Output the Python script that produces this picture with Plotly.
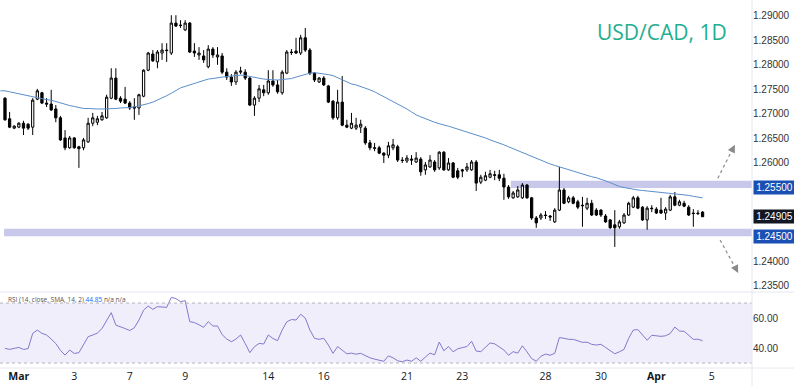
import plotly.graph_objects as go

# ---------------- data ----------------
opens = [
    1.2732, 1.2690, 1.2671, 1.2673, 1.2681, 1.2679, 1.2673, 1.2730, 1.2743, 1.2722,
    1.2720, 1.2710, 1.2692, 1.2651, 1.2631, 1.2651, 1.2633, 1.2631, 1.2643, 1.2681,
    1.2683, 1.2688, 1.2692, 1.2732, 1.2773, 1.2732, 1.2730, 1.2722, 1.2714, 1.2712,
    1.2736, 1.2789, 1.2822, 1.2806, 1.2824, 1.2830, 1.2824, 1.2885, 1.2881, 1.2871,
    1.2885, 1.2828, 1.2820, 1.2818, 1.2796, 1.2832, 1.2816, 1.2818, 1.2785, 1.2775,
    1.2765, 1.2785, 1.2785, 1.2773, 1.2718, 1.2732, 1.2749, 1.2743, 1.2767, 1.2759,
    1.2743, 1.2783, 1.2826, 1.2828, 1.2824, 1.2855, 1.2830, 1.2783, 1.2765, 1.2773,
    1.2757, 1.2726, 1.2692, 1.2724, 1.2677, 1.2671, 1.2671, 1.2673, 1.2671, 1.2641,
    1.2631, 1.2631, 1.2620, 1.2616, 1.2631, 1.2633, 1.2606, 1.2604, 1.2608, 1.2602,
    1.2608, 1.2586, 1.2592, 1.2602, 1.2590, 1.2622, 1.2586, 1.2600, 1.2584, 1.2586,
    1.2586, 1.2586, 1.2602, 1.2561, 1.2565, 1.2571, 1.2576, 1.2576, 1.2569, 1.2551,
    1.2529, 1.2531, 1.2529, 1.2555, 1.2529, 1.2488, 1.2488, 1.2494, 1.2492, 1.2480,
    1.2504, 1.2545, 1.2521, 1.2529, 1.2521, 1.2514, 1.2508, 1.2518, 1.2504, 1.2504,
    1.2492, 1.2484, 1.2474, 1.2470, 1.2478, 1.2494, 1.2510, 1.2529, 1.2510, 1.2484,
    1.2508, 1.2506, 1.2504, 1.2498, 1.2504, 1.2531, 1.2514, 1.2518, 1.2510, 1.2498,
    1.2498, 1.2500,
]
highs = [
    1.2734, 1.2704, 1.2677, 1.2683, 1.2686, 1.2681, 1.2732, 1.2751, 1.2745, 1.2732,
    1.2749, 1.2718, 1.2696, 1.2667, 1.2655, 1.2653, 1.2635, 1.2651, 1.2692, 1.2702,
    1.2696, 1.2704, 1.2739, 1.2793, 1.2793, 1.2736, 1.2755, 1.2726, 1.2732, 1.2741,
    1.2791, 1.2826, 1.2830, 1.2830, 1.2844, 1.2844, 1.2901, 1.2901, 1.2891, 1.2891,
    1.2887, 1.2844, 1.2836, 1.2830, 1.2840, 1.2836, 1.2836, 1.2824, 1.2793, 1.2781,
    1.2789, 1.2796, 1.2791, 1.2775, 1.2736, 1.2759, 1.2759, 1.2789, 1.2789, 1.2769,
    1.2789, 1.2830, 1.2832, 1.2855, 1.2861, 1.2875, 1.2834, 1.2785, 1.2775, 1.2777,
    1.2759, 1.2728, 1.2749, 1.2777, 1.2688, 1.2702, 1.2692, 1.2688, 1.2675, 1.2647,
    1.2641, 1.2635, 1.2622, 1.2643, 1.2649, 1.2637, 1.2612, 1.2616, 1.2616, 1.2622,
    1.2612, 1.2602, 1.2616, 1.2606, 1.2624, 1.2624, 1.2610, 1.2602, 1.2590, 1.2588,
    1.2600, 1.2606, 1.2606, 1.2576, 1.2582, 1.2586, 1.2584, 1.2586, 1.2578, 1.2555,
    1.2543, 1.2553, 1.2559, 1.2557, 1.2531, 1.2492, 1.2498, 1.2502, 1.2494, 1.2508,
    1.2592, 1.2549, 1.2533, 1.2533, 1.2525, 1.2531, 1.2529, 1.2525, 1.2508, 1.2506,
    1.2496, 1.2486, 1.2504, 1.2484, 1.2498, 1.2521, 1.2533, 1.2533, 1.2512, 1.2512,
    1.2514, 1.2510, 1.2529, 1.2510, 1.2535, 1.2541, 1.2525, 1.2523, 1.2514, 1.2506,
    1.2504, 1.2502,
]
lows = [
    1.2686, 1.2671, 1.2669, 1.2671, 1.2657, 1.2667, 1.2657, 1.2728, 1.2720, 1.2714,
    1.2706, 1.2683, 1.2645, 1.2626, 1.2629, 1.2629, 1.2590, 1.2626, 1.2641, 1.2675,
    1.2677, 1.2686, 1.2690, 1.2730, 1.2728, 1.2722, 1.2720, 1.2708, 1.2688, 1.2698,
    1.2734, 1.2787, 1.2806, 1.2793, 1.2810, 1.2806, 1.2820, 1.2877, 1.2875, 1.2869,
    1.2824, 1.2816, 1.2810, 1.2804, 1.2793, 1.2814, 1.2800, 1.2781, 1.2769, 1.2757,
    1.2759, 1.2781, 1.2769, 1.2716, 1.2696, 1.2724, 1.2736, 1.2739, 1.2755, 1.2741,
    1.2739, 1.2781, 1.2820, 1.2822, 1.2820, 1.2826, 1.2779, 1.2765, 1.2763, 1.2757,
    1.2722, 1.2688, 1.2688, 1.2675, 1.2671, 1.2669, 1.2667, 1.2661, 1.2637, 1.2626,
    1.2624, 1.2618, 1.2600, 1.2610, 1.2626, 1.2602, 1.2600, 1.2600, 1.2596, 1.2600,
    1.2574, 1.2576, 1.2590, 1.2582, 1.2586, 1.2584, 1.2584, 1.2569, 1.2567, 1.2571,
    1.2582, 1.2584, 1.2543, 1.2557, 1.2563, 1.2569, 1.2565, 1.2563, 1.2525, 1.2527,
    1.2527, 1.2529, 1.2527, 1.2527, 1.2484, 1.2468, 1.2484, 1.2486, 1.2482, 1.2478,
    1.2502, 1.2516, 1.2518, 1.2516, 1.2506, 1.2470, 1.2504, 1.2492, 1.2492, 1.2490,
    1.2478, 1.2466, 1.2429, 1.2466, 1.2476, 1.2492, 1.2508, 1.2506, 1.2482, 1.2464,
    1.2500, 1.2496, 1.2496, 1.2484, 1.2502, 1.2512, 1.2512, 1.2510, 1.2492, 1.2470,
    1.2494, 1.2492,
]
closes = [
    1.2688, 1.2673, 1.2675, 1.2681, 1.2671, 1.2671, 1.2728, 1.2747, 1.2722, 1.2720,
    1.2708, 1.2692, 1.2647, 1.2631, 1.2651, 1.2631, 1.2629, 1.2647, 1.2681, 1.2692,
    1.2690, 1.2696, 1.2734, 1.2773, 1.2730, 1.2726, 1.2722, 1.2712, 1.2712, 1.2739,
    1.2789, 1.2824, 1.2808, 1.2826, 1.2830, 1.2829, 1.2885, 1.2879, 1.2880, 1.2885,
    1.2826, 1.2824, 1.2824, 1.2810, 1.2832, 1.2820, 1.2820, 1.2785, 1.2775, 1.2765,
    1.2785, 1.2787, 1.2773, 1.2718, 1.2732, 1.2751, 1.2743, 1.2767, 1.2759, 1.2745,
    1.2785, 1.2826, 1.2825, 1.2824, 1.2855, 1.2830, 1.2783, 1.2769, 1.2773, 1.2759,
    1.2724, 1.2692, 1.2724, 1.2677, 1.2673, 1.2681, 1.2677, 1.2679, 1.2641, 1.2631,
    1.2630, 1.2620, 1.2616, 1.2635, 1.2637, 1.2606, 1.2605, 1.2610, 1.2606, 1.2610,
    1.2582, 1.2596, 1.2606, 1.2586, 1.2622, 1.2586, 1.2600, 1.2571, 1.2571, 1.2584,
    1.2592, 1.2602, 1.2559, 1.2571, 1.2574, 1.2578, 1.2575, 1.2569, 1.2551, 1.2531,
    1.2539, 1.2545, 1.2555, 1.2529, 1.2488, 1.2478, 1.2494, 1.2493, 1.2490, 1.2504,
    1.2545, 1.2518, 1.2529, 1.2518, 1.2510, 1.2513, 1.2518, 1.2494, 1.2494, 1.2494,
    1.2480, 1.2468, 1.2468, 1.2480, 1.2494, 1.2518, 1.2529, 1.2508, 1.2484, 1.2508,
    1.2507, 1.2498, 1.2498, 1.2506, 1.2531, 1.2514, 1.2521, 1.2512, 1.2494, 1.2497,
    1.2497, 1.24905,
]
moving_avg = [
    1.2747, 1.2745, 1.2743, 1.2741, 1.2739, 1.2736, 1.2734, 1.2732, 1.2731, 1.2729,
    1.2728, 1.2725, 1.2722, 1.2719, 1.2717, 1.2715, 1.2713, 1.2711, 1.2711, 1.2710,
    1.2710, 1.2710, 1.2710, 1.2711, 1.2711, 1.2712, 1.2712, 1.2713, 1.2714, 1.2716,
    1.2718, 1.2721, 1.2724, 1.2728, 1.2732, 1.2737, 1.2742, 1.2748, 1.2753, 1.2756,
    1.2759, 1.2762, 1.2765, 1.2768, 1.2771, 1.2772, 1.2774, 1.2775, 1.2776, 1.2777,
    1.2778, 1.2779, 1.2778, 1.2776, 1.2774, 1.2772, 1.2771, 1.2770, 1.2769, 1.2769,
    1.2770, 1.2771, 1.2772, 1.2775, 1.2778, 1.2781, 1.2783, 1.2784, 1.2783, 1.2782,
    1.2780, 1.2778, 1.2774, 1.2769, 1.2765, 1.2761, 1.2759, 1.2756, 1.2753, 1.2749,
    1.2745, 1.2740, 1.2736, 1.2731, 1.2726, 1.2721, 1.2715, 1.2710, 1.2704, 1.2698,
    1.2694, 1.2690, 1.2687, 1.2683, 1.2680, 1.2678, 1.2675, 1.2672, 1.2669, 1.2666,
    1.2664, 1.2660, 1.2657, 1.2654, 1.2651, 1.2647, 1.2644, 1.2641, 1.2637, 1.2633,
    1.2629, 1.2625, 1.2622, 1.2618, 1.2614, 1.2610, 1.2606, 1.2602, 1.2598, 1.2595,
    1.2592, 1.2589, 1.2587, 1.2584, 1.2581, 1.2578, 1.2575, 1.2572, 1.2570, 1.2567,
    1.2564, 1.2560, 1.2556, 1.2552, 1.2550, 1.2548, 1.2546, 1.2545, 1.2544, 1.2543,
    1.2542, 1.2541, 1.2541, 1.2540, 1.2539, 1.2538, 1.2537, 1.2535, 1.2534, 1.2532,
    1.2531, 1.2529,
]
rsi = [
    39.8, 39.1, 39.8, 40.4, 39.1, 39.6, 49.8, 52.0, 49.8, 48.7,
    46.0, 43.0, 38.5, 35.3, 38.7, 36.4, 36.9, 42.0, 47.6, 48.7,
    50.0, 53.0, 58.5, 63.6, 55.3, 54.4, 53.0, 51.7, 53.5, 58.7,
    65.3, 68.0, 65.8, 67.6, 67.6, 67.1, 73.8, 73.0, 70.9, 71.6,
    57.6, 57.0, 55.5, 53.8, 57.6, 54.7, 54.7, 49.0, 46.0, 44.2,
    46.0, 48.7, 43.0, 36.9, 40.9, 43.1, 42.7, 48.7, 46.4, 44.9,
    52.0, 57.5, 59.0, 58.7, 62.5, 60.0, 52.0, 46.5, 45.8, 46.5,
    42.0, 36.5, 41.0, 38.5, 36.2, 36.6, 35.9, 36.5, 35.0, 33.5,
    32.6, 32.0, 31.2, 34.8, 33.5, 31.5, 30.9, 32.0, 31.2, 33.5,
    31.2, 34.0, 36.6, 35.5, 44.0, 38.2, 41.0, 37.5, 39.5, 40.3,
    41.0, 44.5, 38.0, 37.6, 40.3, 43.4, 42.8, 41.0, 38.7, 35.2,
    37.6, 36.6, 41.5, 37.5, 33.0, 31.2, 34.5, 36.0, 35.2, 36.5,
    47.0, 46.5, 45.8, 45.8, 44.7, 43.8, 43.9, 42.5, 42.0, 42.5,
    40.4, 38.0, 36.2, 37.5, 39.1, 46.5, 52.0, 52.3, 48.5, 45.2,
    48.5, 48.1, 47.8, 48.2, 49.7, 54.0, 51.3, 51.2, 48.6, 45.8,
    45.9, 44.85,
]

candles_per_day = 6
first_day_candle = 4
tick_trading_day = [0, 2, 4, 6, 9, 11, 14, 16, 19, 21, 23, 25]
tick_labels = ["<b>Mar</b>", "3", "7", "9", "14", "16", "21", "23", "28", "30", "<b>Apr</b>", "5"]

price_ticks = [1.235, 1.240, 1.245, 1.250, 1.255, 1.260, 1.265, 1.270, 1.275, 1.280, 1.285, 1.290]
resistance_zone = (1.2549, 1.2564)
support_zone = (1.2451, 1.2466)
resistance_label = 1.25500
support_label = 1.24500
last_price = closes[-1]
rsi_last = rsi[-1]
title_text = "USD/CAD, 1D"

# ---------------- figure ----------------
x = list(range(1, len(closes) + 1))
x_range = [-0.08, 162.7]
tick_pos = [first_day_candle + candles_per_day * d for d in tick_trading_day]

# price ticks hidden behind the coloured price labels
covered = {resistance_label, support_label, 1.250}
axis_ticks = [v for v in price_ticks if round(v, 5) not in covered]

FONT = "Open Sans, Arial, sans-serif"
AXFONT = "Liberation Sans, Arial, sans-serif"
fig = go.Figure()

fig.add_trace(go.Candlestick(
    x=x, open=opens, high=highs, low=lows, close=closes,
    increasing=dict(line=dict(color="#000000", width=1), fillcolor="#ffffff"),
    decreasing=dict(line=dict(color="#000000", width=1), fillcolor="#000000"),
    whiskerwidth=0, xaxis="x", yaxis="y", showlegend=False, hoverinfo="skip",
))
fig.add_trace(go.Scatter(
    x=[0] + x, y=[moving_avg[0]] + moving_avg, mode="lines",
    line=dict(color="#5b8ecb", width=1), xaxis="x", yaxis="y",
    showlegend=False, hoverinfo="skip",
))
fig.add_trace(go.Scatter(
    x=x, y=rsi, mode="lines", line=dict(color="#7f7acb", width=1),
    xaxis="x2", yaxis="y2", showlegend=False, hoverinfo="skip",
))

shapes = []
shapes.append(dict(type="rect", xref="x", yref="y", x0=110.5, x1=x_range[1],
                   y0=resistance_zone[0], y1=resistance_zone[1],
                   fillcolor="rgba(170,170,225,0.65)", line=dict(width=0), layer="below"))
shapes.append(dict(type="rect", xref="x", yref="y", x0=0.8, x1=x_range[1],
                   y0=support_zone[0], y1=support_zone[1],
                   fillcolor="rgba(170,170,225,0.65)", line=dict(width=0), layer="below"))
shapes.append(dict(type="rect", xref="x2 domain", yref="y2", x0=0, x1=1, y0=30, y1=70,
                   fillcolor="#f1eefb", line=dict(width=0), layer="below"))
for lvl in (30, 70):
    shapes.append(dict(type="line", xref="x2 domain", yref="y2", x0=0, x1=1, y0=lvl, y1=lvl,
                       line=dict(color="#b4b4bc", width=1, dash="dot")))
shapes.append(dict(type="line", xref="paper", yref="paper", x0=0, x1=1.06, y0=0.2065, y1=0.2065,
                   line=dict(color="#e6e8ee", width=1)))
shapes.append(dict(type="line", xref="paper", yref="paper", x0=0, x1=1.06, y0=0, y1=0,
                   line=dict(color="#e6e8ee", width=1)))
shapes.append(dict(type="line", xref="paper", yref="paper", x0=1, x1=1, y0=-0.06, y1=1,
                   line=dict(color="#e6e8ee", width=1)))
shapes.append(dict(type="line", xref="x", yref="y", x0=155.3, y0=1.2569, x1=158.6, y1=1.2630,
                   line=dict(color="#8a8a8a", width=1.2, dash="dot")))
shapes.append(dict(type="line", xref="x", yref="y", x0=155.8, y0=1.2443, x1=159.3, y1=1.2383,
                   line=dict(color="#8a8a8a", width=1.2, dash="dot")))

annotations = []
annotations.append(dict(x=159.0, y=1.2637, xref="x", yref="y", ax=158.4, ay=1.2626,
                        axref="x", ayref="y", showarrow=True, arrowhead=2, arrowsize=1.3,
                        arrowwidth=1.2, arrowcolor="#8a8a8a", text=""))
annotations.append(dict(x=159.7, y=1.2376, xref="x", yref="y", ax=159.1, ay=1.2387,
                        axref="x", ayref="y", showarrow=True, arrowhead=2, arrowsize=1.3,
                        arrowwidth=1.2, arrowcolor="#8a8a8a", text=""))
annotations.append(dict(x=0.880, y=0.912, xref="paper", yref="paper", text=title_text,
                        showarrow=False, xanchor="center", yanchor="middle",
                        font=dict(family=FONT, size=21, color="#1fae8e")))
for val, bg in ((resistance_label, "#1a4fb4"), (support_label, "#1a4fb4"), (last_price, "#131722")):
    annotations.append(dict(x=1.0, y=val, xref="paper", yref="y", text=f"{val:.5f}",
                            showarrow=False, xanchor="left", yanchor="middle", xshift=1,
                            bgcolor=bg, borderpad=1, width=39,
                            font=dict(family=AXFONT, size=10, color="#ffffff")))
annotations.append(dict(x=0.008, y=0.186, xref="paper", yref="paper", showarrow=False,
                        xanchor="left", yanchor="middle",
                        text=f"RSI (14, close, SMA, 14, 2) <span style='color:#2962ff'>{rsi_last:.2f}</span> n/a n/a",
                        font=dict(family=FONT, size=6.5, color="#555555")))

fig.update_layout(
    width=794, height=386,
    margin=dict(l=0, r=42, t=0, b=18),
    paper_bgcolor="#ffffff", plot_bgcolor="#ffffff",
    showlegend=False,
    font=dict(family=AXFONT, size=10, color="#131722"),
    xaxis=dict(domain=[0, 1], range=x_range, showticklabels=False, showgrid=False,
               zeroline=False, showline=False, rangeslider=dict(visible=False),
               anchor="y", fixedrange=True),
    yaxis=dict(domain=[0.2092, 1], range=[1.23392, 1.2932], side="right",
               tickvals=axis_ticks, ticktext=[f"{v:.5f}" for v in axis_ticks],
               showgrid=False, zeroline=False, showline=False, ticks="",
               tickfont=dict(family=AXFONT, size=10, color="#333333"), anchor="x"),
    xaxis2=dict(domain=[0, 1], range=x_range, tickvals=tick_pos, ticktext=tick_labels,
                showgrid=False, zeroline=False, showline=False, ticks="",
                tickfont=dict(family=FONT, size=10.5, color="#131722"), anchor="y2"),
    yaxis2=dict(domain=[0, 0.2038], range=[26.7, 76.7], side="right",
                tickvals=[40, 60], ticktext=["40.00", "60.00"],
                showgrid=False, zeroline=False, showline=False, ticks="",
                tickfont=dict(family=AXFONT, size=10, color="#333333"), anchor="x2"),
    shapes=shapes,
    annotations=annotations,
)

fig.write_html("out.html", config={"displayModeBar": False},
               post_script="document.body.style.margin='0px';")
